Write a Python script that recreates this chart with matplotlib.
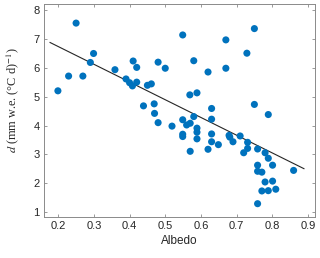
import matplotlib
matplotlib.use("Agg")
import matplotlib.pyplot as plt
import numpy as np

plt.rcParams['mathtext.fontset'] = 'stix'

albedo = [0.199, 0.229, 0.250, 0.269, 0.290, 0.299, 0.359, 0.390, 0.400, 0.408,
          0.420, 0.410, 0.420, 0.450, 0.461, 0.480, 0.500, 0.549, 0.580, 0.569,
          0.589, 0.620, 0.439, 0.469, 0.470, 0.480, 0.519, 0.549, 0.560, 0.570,
          0.580, 0.549, 0.549, 0.589, 0.589, 0.589, 0.570, 0.630, 0.630, 0.630,
          0.630, 0.620, 0.649, 0.750, 0.670, 0.729, 0.670, 0.750, 0.789, 0.679,
          0.681, 0.690, 0.710, 0.731, 0.731, 0.720, 0.759, 0.780, 0.789, 0.801,
          0.759, 0.759, 0.771, 0.860, 0.780, 0.801, 0.771, 0.789, 0.810, 0.759]
ddf = [5.20, 5.71, 7.54, 5.71, 6.18, 6.49, 5.93, 5.61, 5.48, 5.37,
       5.50, 6.23, 6.01, 5.39, 5.44, 6.19, 5.98, 7.13, 6.24, 5.06,
       5.13, 5.85, 4.68, 4.75, 4.42, 4.10, 3.98, 4.20, 4.02, 4.08,
       4.31, 3.70, 3.62, 3.91, 3.77, 3.54, 3.11, 4.59, 4.22, 3.71,
       3.44, 3.18, 3.34, 7.35, 6.96, 6.50, 5.98, 4.73, 4.38, 3.66,
       3.60, 3.44, 3.64, 3.42, 3.21, 3.06, 3.19, 3.06, 2.87, 2.63,
       2.63, 2.42, 2.39, 2.45, 2.05, 2.08, 1.74, 1.75, 1.80, 1.30]

fit_x = [0.177, 0.889]
fit_y = [6.87, 2.51]

xticks = [0.2, 0.3, 0.4, 0.5, 0.6, 0.7, 0.8, 0.9]
yticks = [1, 2, 3, 4, 5, 6, 7, 8]

fig = plt.figure(figsize=(3.2, 2.58), dpi=100)
ax = fig.add_axes([44/320, 41/258, 271/320, 213/258])

ax.plot(fit_x, fit_y, color='#262626', lw=0.8, zorder=2)
ax.scatter(albedo, ddf, s=26, color='#0072BD', edgecolors='none', zorder=3)

ax.set_xlim(0.16, 0.92)
ax.set_ylim(0.84, 8.2)
ax.set_xticks(xticks)
ax.set_yticks(yticks)
ax.set_xticklabels([f"{v:g}" for v in xticks])
ax.set_yticklabels([str(v) for v in yticks])

tick_col = '#8a8a8a'
for s in ax.spines.values():
    s.set_color(tick_col)
    s.set_linewidth(0.7)
ax.tick_params(direction='in', length=2.5, width=0.6, color=tick_col,
               labelsize=8, labelcolor='#262626', top=True, right=True, pad=3)
for lab in ax.get_xticklabels() + ax.get_yticklabels():
    lab.set_family('Liberation Sans')

ax.set_xlabel('Albedo', fontsize=8.5, family='Liberation Sans', color='#262626', labelpad=3)
ax.set_ylabel('$d$ (mm w.e. (°C d)$^{-1}$)', fontsize=8.8, family='Liberation Serif',
              color='#262626')
ax.yaxis.set_label_coords(-0.085, 0.55)

fig.savefig('out.png', dpi=100)
